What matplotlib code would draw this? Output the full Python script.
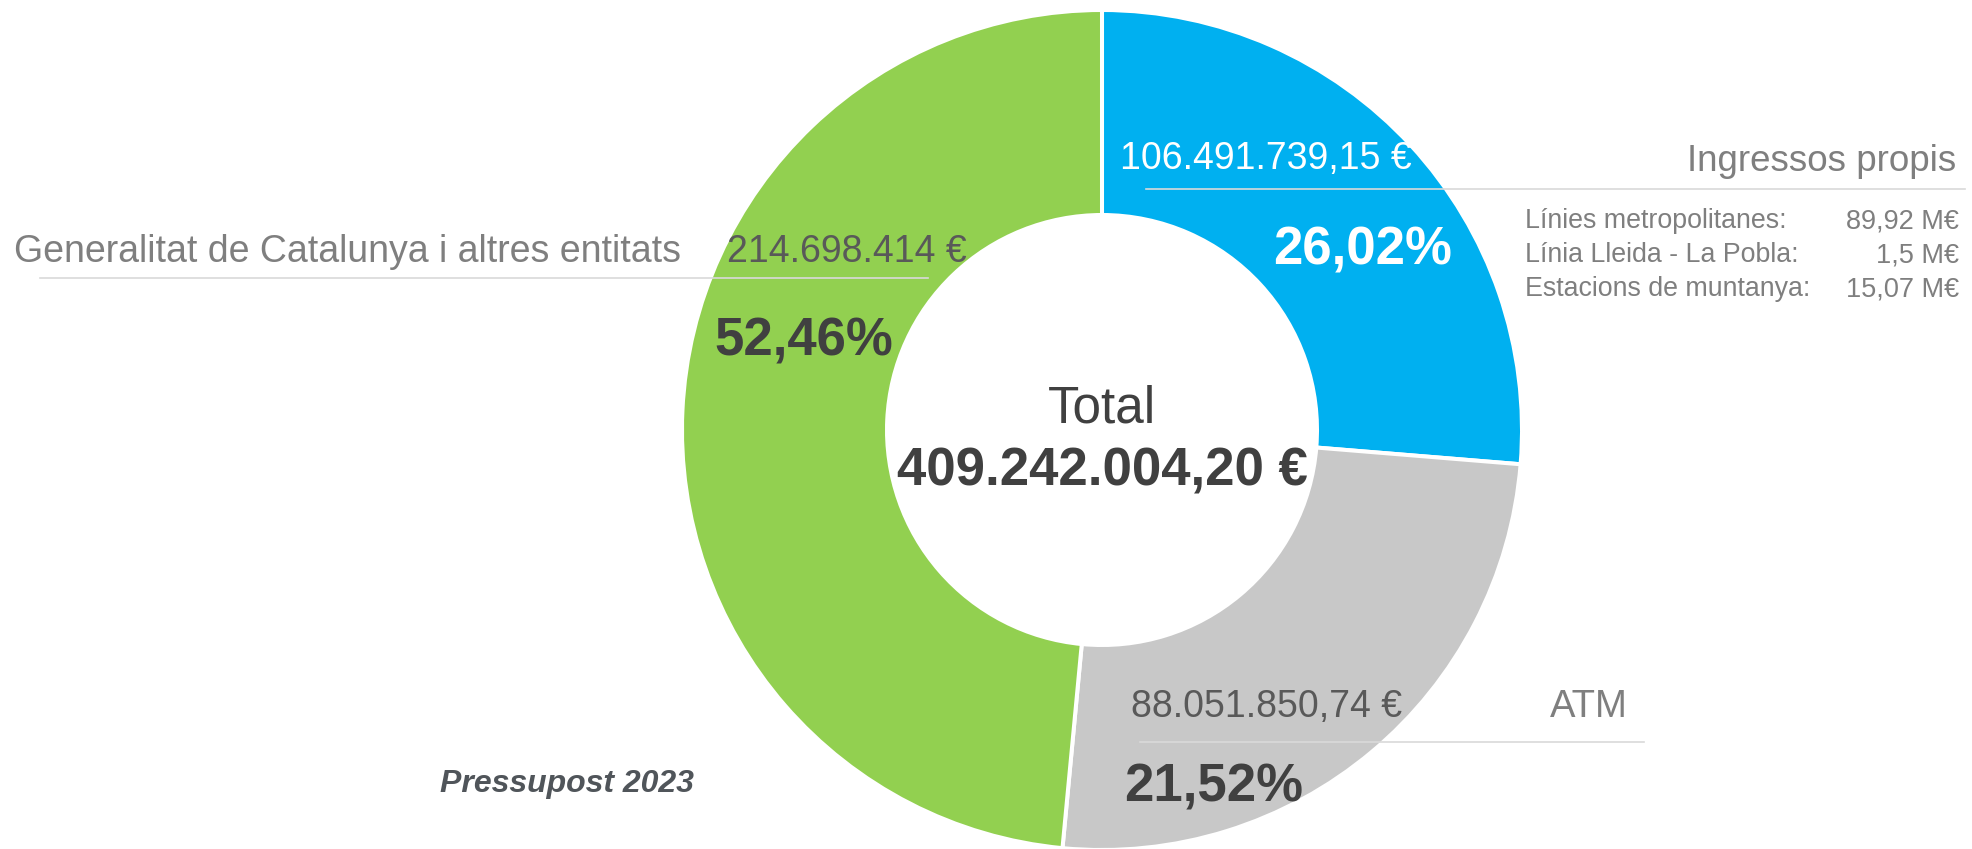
import matplotlib
matplotlib.use("Agg")
import matplotlib.pyplot as plt

W, H = 1972, 849

# data
categories = ["Ingressos propis", "ATM", "Generalitat de Catalunya i altres entitats"]
amounts = ["106.491.739,15 €", "88.051.850,74 €", "214.698.414 €"]
percents = ["26,02%", "21,52%", "52,46%"]
# wedge shares as drawn in the picture (angles measured on the ring)
wedge_shares = [26.3, 25.2, 48.5]
colors = ["#00B0F0", "#C8C8C8", "#92D050"]
total_label = "409.242.004,20 €"
sub_names = ["Línies metropolitanes:", "Línia Lleida - La Pobla:", "Estacions de muntanya:"]
sub_values = ["89,92 M€", "1,5 M€", "15,07 M€"]

plt.rcParams["font.family"] = ["Liberation Sans", "DejaVu Sans"]

fig = plt.figure(figsize=(W / 100, H / 100), dpi=100)
ax = fig.add_axes([0, 0, 1, 1])

ax.pie(wedge_shares, colors=colors, startangle=90, counterclock=False,
       center=(1102, H - 430), radius=420,
       wedgeprops=dict(width=205, edgecolor="white", linewidth=2.9))
ax.set_xlim(0, W)
ax.set_ylim(0, H)
ax.set_aspect("equal")
ax.axis("off")

def y(p):
    return H - p

dark = "#404040"
grey = "#7F7F7F"
mid = "#595959"
line_c = "#D9D9D9"

# leader lines
ax.plot([1146, 1965], [y(189)] * 2, color=line_c, lw=1.2, zorder=3)
ax.plot([40, 928], [y(278)] * 2, color=line_c, lw=1.2, zorder=3)
ax.plot([1140, 1644], [y(742)] * 2, color=line_c, lw=1.2, zorder=3)

# Ingressos propis
ax.text(1120, y(169), amounts[0], color="white", fontsize=27, va="baseline", zorder=4)
ax.text(1956, y(171), categories[0], color=grey, fontsize=26.5, ha="right", va="baseline", zorder=4)
ax.text(1273, y(264), percents[0], color="white", fontsize=38, fontweight="bold", va="baseline", zorder=4)
for i, (n, v) in enumerate(zip(sub_names, sub_values)):
    by = [228, 262, 296][i]
    ax.text(1525, y(by), n, color=grey, fontsize=19.3, va="baseline", zorder=4)
    ax.text(1959, y(by), v, color=grey, fontsize=19.5, ha="right", va="baseline", zorder=4)

# ATM
ax.text(1131, y(717), amounts[1], color=mid, fontsize=27, va="baseline", zorder=4)
ax.text(1550, y(717), categories[1], color=grey, fontsize=27.5, va="baseline", zorder=4)
ax.text(1124, y(801), percents[1], color=dark, fontsize=38, fontweight="bold", va="baseline", zorder=4)

# Generalitat
ax.text(14, y(262), categories[2], color=grey, fontsize=27, va="baseline", zorder=4)
ax.text(727, y(262), amounts[2], color=mid, fontsize=27, va="baseline", zorder=4)
ax.text(714, y(355), percents[2], color=dark, fontsize=38, fontweight="bold", va="baseline", zorder=4)

# centre
ax.text(1102, y(422), "Total", color=dark, fontsize=37, ha="center", va="baseline", zorder=4)
ax.text(1102, y(485), total_label, color=dark, fontsize=38, fontweight="bold",
        ha="center", va="baseline", zorder=4)

ax.text(440, y(792), "Pressupost 2023", color="#50555A", fontsize=23,
        fontweight="bold", fontstyle="italic", va="baseline", zorder=4)

fig.savefig("out.png", dpi=100)
